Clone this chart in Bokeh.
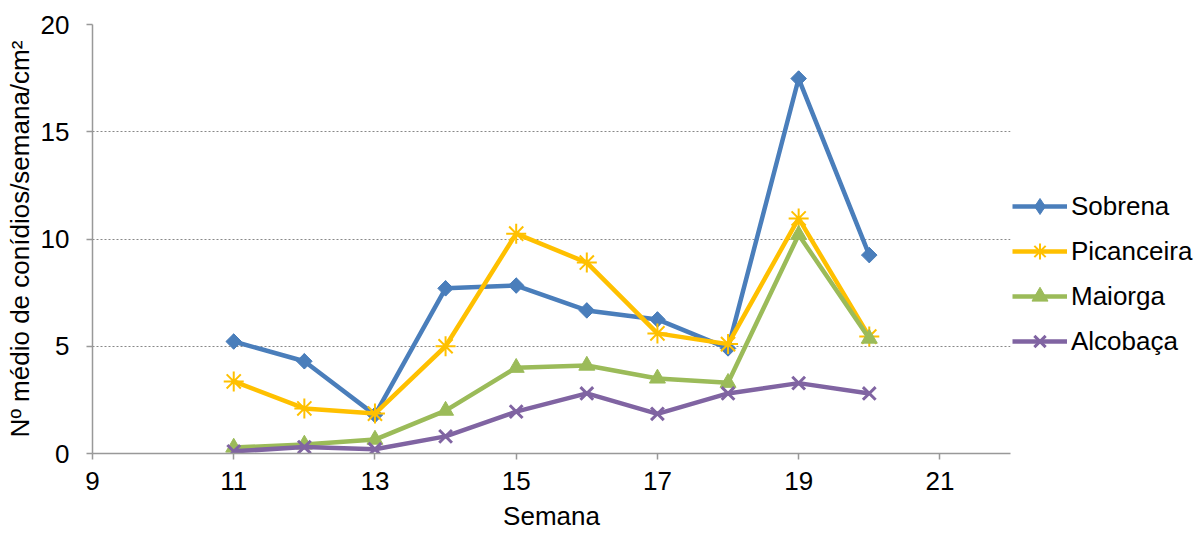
from bokeh.plotting import figure
from bokeh.models import Legend, LegendItem, FixedTicker
from bokeh.embed import file_html
from bokeh.resources import INLINE

weeks = [11, 12, 13, 14, 15, 16, 17, 18, 19, 20]
sobrena = [5.22, 4.3, 1.8, 7.7, 7.83, 6.67, 6.25, 4.9, 17.48, 9.25]
picanceira = [3.36, 2.1, 1.86, 5.0, 10.25, 8.9, 5.6, 5.1, 10.96, 5.45]
maiorga = [0.28, 0.42, 0.65, 2.0, 4.0, 4.1, 3.5, 3.3, 10.2, 5.36]
alcobaca = [0.1, 0.3, 0.2, 0.8, 1.95, 2.8, 1.85, 2.8, 3.28, 2.8]

x_ticks = [9, 11, 13, 15, 17, 19, 21]
y_ticks = [0, 5, 10, 15, 20]

# name, values, colour, plot marker, size, angle, legend marker
series = [
    ("Sobrena", sobrena, "#4A7EBB", "square", 11, 0.785398, "diamond"),
    ("Picanceira", picanceira, "#FFC000", "asterisk", 20, 0, "asterisk"),
    ("Maiorga", maiorga, "#9BBB59", "triangle", 16, 0, "triangle"),
    ("Alcobaça", alcobaca, "#8064A2", "x", 18, 0, "x"),
]

FONT = "Liberation Sans"

p = figure(frame_width=918, frame_height=429, x_range=(9, 22), y_range=(0, 20),
           output_backend="svg", toolbar_location=None,
           min_border_left=92, min_border_top=24, min_border_bottom=80,
           min_border_right=185)
p.outline_line_color = None
p.xgrid.grid_line_color = None
p.ygrid.grid_line_color = "#888888"
p.ygrid.grid_line_dash = "2 2"
p.ygrid.grid_line_width = 1.2
p.ygrid.ticker = FixedTicker(ticks=y_ticks[1:])

p.xaxis.ticker = FixedTicker(ticks=x_ticks)
p.yaxis.ticker = FixedTicker(ticks=y_ticks)
for ax in (p.xaxis, p.yaxis):
    ax.axis_line_color = "#999999"
    ax.axis_line_width = 1.5
    ax.major_tick_line_color = "#999999"
    ax.major_tick_line_width = 1.5
    ax.major_tick_out = 6
    ax.major_tick_in = 0
    ax.minor_tick_line_color = None
    ax.major_label_text_font = FONT
    ax.major_label_text_font_size = "26px"
    ax.major_label_text_color = "#000000"
    ax.axis_label_text_font = FONT
    ax.axis_label_text_font_size = "26px"
    ax.axis_label_text_font_style = "normal"
    ax.axis_label_text_color = "#000000"
p.xaxis.axis_label = "Semana"
p.yaxis.axis_label = "Nº médio de conídios/semana/cm²"
p.xaxis.major_label_standoff = 12
p.xaxis.axis_label_standoff = 8
p.yaxis.major_label_standoff = 17
p.yaxis.axis_label_standoff = 3

items = []
for name, vals, color, marker, size, ang, lmarker in series:
    lw = 2 if marker == "asterisk" else (3 if marker == "x" else 1)
    r1 = p.line(weeks, vals, line_color=color, line_width=4.5)
    if lmarker != marker:
        # legend-facing diamond, hidden under the rotated square marks
        r3 = p.scatter(weeks, vals, marker=lmarker, size=15,
                       fill_color=color, line_color=color, line_width=lw)
    r2 = p.scatter(weeks, vals, marker=marker, size=size, angle=ang,
                   fill_color=color, line_color=color, line_width=lw)
    if lmarker != marker:
        items.append(LegendItem(label=name, renderers=[r1, r3]))
    else:
        items.append(LegendItem(label=name, renderers=[r1, r2]))

legend = Legend(items=items, location=(2, 92))
legend.border_line_color = None
legend.background_fill_alpha = 0
legend.label_text_font = FONT
legend.label_text_font_size = "26px"
legend.label_text_color = "#000000"
legend.glyph_width = 55
legend.glyph_height = 40
legend.label_height = 40
legend.spacing = 5
legend.label_standoff = 4
legend.padding = 0
legend.margin = 0
p.add_layout(legend, "right")

open("out.html", "w").write(file_html(p, INLINE))
